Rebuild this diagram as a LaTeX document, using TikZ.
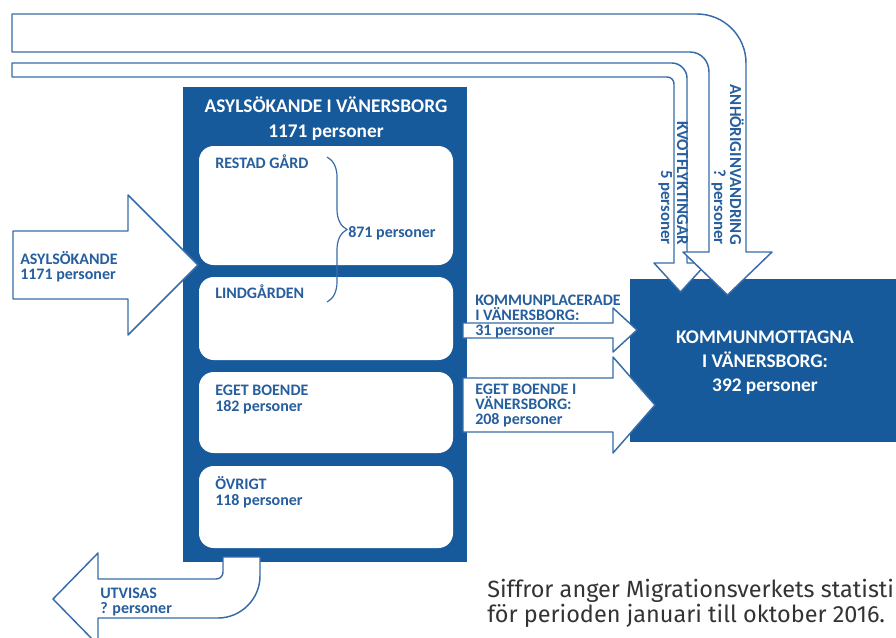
\documentclass[tikz,border=0pt]{standalone}
\usepackage{fontspec}
\setmainfont{Carlito}
\newfontfamily\footfont{Fira Sans}
\usetikzlibrary{decorations.pathreplacing}
\definecolor{boxblue}{RGB}{22,90,155}
\definecolor{lineblue}{RGB}{55,108,168}
\definecolor{txtblue}{RGB}{38,94,158}
\definecolor{foottxt}{RGB}{51,51,51}
\begin{document}
\begin{tikzpicture}[x=0.75pt,y=-0.75pt,
  arrowshape/.style={draw=lineblue, fill=white, line width=1.1pt, line join=round},
  lab/.style={text=txtblue, font=\fontsize{12}{11.25}\selectfont\bfseries, inner sep=0pt, align=left, anchor=base west},
  vlab/.style={text=txtblue, font=\fontsize{12.6}{12}\selectfont\bfseries, inner sep=0pt, align=right, anchor=base east, rotate=-90},
  wlab/.style={text=white, font=\fontsize{14.5}{18}\selectfont\bfseries, inner sep=0pt, align=center, anchor=base},
  inbox/.style={fill=white, rounded corners=11pt},
  bluebox/.style={fill=boxblue}]
\useasboundingbox (0,0) rectangle (896,637);
\clip (0,0) rectangle (896,637);

% blue boxes
\path[bluebox] (630,279) rectangle (900,442);
\path[bluebox] (183,87) rectangle (467,562);
\path[inbox] (199,146) rectangle (453,265);
\path[inbox] (199,277) rectangle (453,360);
\path[inbox] (199,372) rectangle (453,453);
\path[inbox] (199,466) rectangle (453,548);

% top arrows
\draw[arrowshape] (12,63) -- (672,63) .. controls (680,63) and (687,70) .. (687,78) -- (687,263) -- (707,263) -- (680.5,292) -- (654,263) -- (674,263) -- (674,84) .. controls (674,80) and (671,77) .. (667,77) -- (12,77) -- cycle;
\draw[arrowshape] (12,14) -- (697,14) .. controls (724,14) and (746,36) .. (746,63) -- (746,252) -- (772,252) -- (727.5,295) -- (683,252) -- (709,252) -- (709,72) .. controls (709,61) and (701,52) .. (690,52) -- (12,52) -- cycle;

% left arrow
\draw[arrowshape] (13,231) -- (128,231) -- (128,195) -- (198,265) -- (128,335) -- (128,299) -- (13,299) -- cycle;

% middle arrows
\draw[arrowshape] (463,323) -- (613,323) -- (613,308) -- (637,330) -- (613,352) -- (613,338) -- (463,338) -- cycle;
\draw[arrowshape] (463,378) -- (613,378) -- (613,357) -- (655,405) -- (613,453) -- (613,432) -- (463,432) -- cycle;

% bottom arrow
\draw[arrowshape] (223,557) -- (223,572) .. controls (223,576) and (220,579) .. (216,579) -- (98,579) -- (98,553) -- (53,599) -- (98,645) -- (98,618) -- (218,618) .. controls (241,618) and (260,599) .. (260,576) -- (260,557) -- cycle;

% brace
\draw[lineblue, line width=0.9pt, decorate, decoration={brace, amplitude=15pt}] (327,157) -- (327,302);

% texts (anchored at the baseline of the last line)
\node[wlab] (title) at (326,137) {ASYLSÖKANDE I VÄNERSBORG\\[0.5pt]1171 personer};
\node[wlab] (komm) at (765,391) {KOMMUNMOTTAGNA\\I VÄNERSBORG:\\392 personer};
\node[lab] (restad) at (215,168) {RESTAD GÅRD};
\node[lab] (lind) at (215,298) {LINDGÅRDEN};
\node[lab] (p871) at (348,237) {871 personer};
\node[lab, font=\fontsize{12}{12}\selectfont\bfseries] (eget) at (215,411) {EGET BOENDE\\182 personer};
\node[lab, font=\fontsize{12}{11.5}\selectfont\bfseries] (ovrigt) at (215,505) {ÖVRIGT\\118 personer};
\node[lab] (asyl) at (20,279) {ASYLSÖKANDE\\1171 personer};
\node[lab] (kpl) at (475,335) {KOMMUNPLACERADE\\I VÄNERSBORG:\\31 personer};
\node[lab] (ebv) at (475,424) {EGET BOENDE I\\VÄNERSBORG:\\208 personer};
\node[lab] (utv) at (100,613) {UTVISAS\\? personer};
\node[vlab] (anh) at (714,245) {ANHÖRIGINVANDRING\\? personer};
\node[vlab] (kvot) at (661,245) {KVOTFLYKTINGAR\\5 personer};
\node[text=foottxt, font=\footfont\fontsize{17.6}{18.75}\selectfont, inner sep=0pt, align=left, anchor=base west] (foot) at (487,622) {Siffror anger Migrationsverkets statistik\\för perioden januari till oktober 2016.};
\end{tikzpicture}
\end{document}
